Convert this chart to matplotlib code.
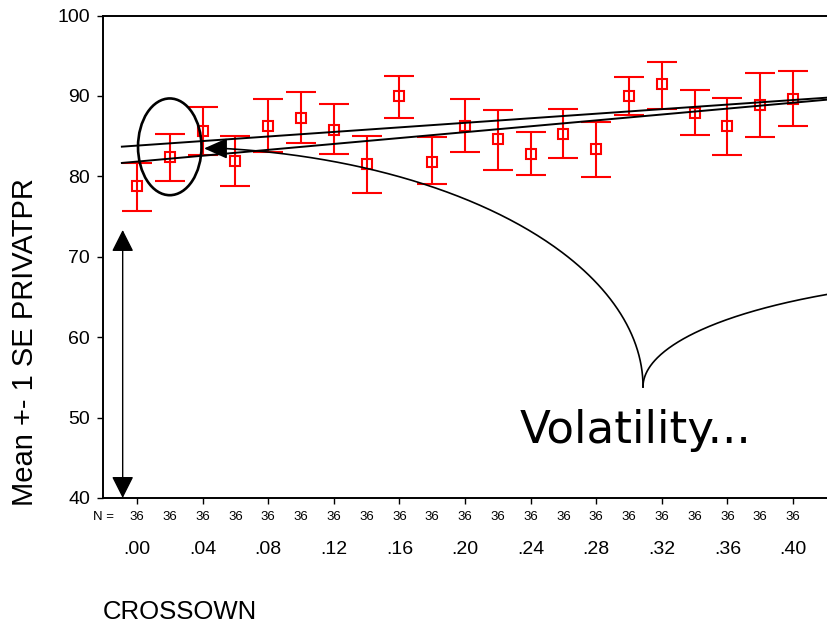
import numpy as np
import matplotlib
matplotlib.use("Agg")
import matplotlib.pyplot as plt
from matplotlib.patches import Ellipse
from matplotlib.transforms import blended_transform_factory

# ---- data ----
crossown = [0.00, 0.02, 0.04, 0.06, 0.08, 0.10, 0.12, 0.14, 0.16, 0.18, 0.20,
            0.22, 0.24, 0.26, 0.28, 0.30, 0.32, 0.34, 0.36, 0.38, 0.40]
means = [78.8, 82.35, 85.6, 81.85, 86.3, 87.25, 85.8, 81.55, 90.05, 81.8, 86.2,
         84.65, 82.8, 85.3, 83.45, 90.0, 91.45, 87.9, 86.25, 88.9, 89.6]
upper = [81.65, 85.3, 88.6, 85.05, 89.6, 90.45, 89.05, 85.05, 92.5, 84.85, 89.6,
         88.2, 85.55, 88.4, 86.7, 92.3, 94.2, 90.7, 89.75, 92.8, 93.05]
lower = [75.75, 79.45, 82.7, 78.8, 83.0, 84.15, 82.8, 77.9, 87.2, 79.0, 83.0,
         80.8, 80.15, 82.3, 79.9, 87.65, 88.4, 85.1, 82.7, 84.85, 86.2]
n_counts = [36] * 21

major_ticks = [0.00, 0.04, 0.08, 0.12, 0.16, 0.20, 0.24, 0.28, 0.32, 0.36, 0.40]
major_labels = [".00", ".04", ".08", ".12", ".16", ".20", ".24", ".28", ".32", ".36", ".40"]
y_ticks = [40, 50, 60, 70, 80, 90, 100]

# two fitted trend lines (intercept, slope)
fit_intercepts = [83.82, 81.83]
fit_slopes = [14.17, 18.31]

# ---- figure ----
plt.rcParams["font.family"] = ["Liberation Sans", "DejaVu Sans"]
fig = plt.figure(figsize=(8.27, 6.24), dpi=100)
ax = fig.add_axes([103 / 827, 126 / 624, 724 / 827, 482.5 / 624])

xmin, xmax = -0.0207, 0.4207
ax.set_xlim(xmin, xmax)
ax.set_ylim(40, 100)

x = np.array(crossown)
m = np.array(means)
yerr = np.vstack([m - np.array(lower), np.array(upper) - m])
ax.errorbar(x, m, yerr=yerr, fmt="s", mfc="none", mec="red", ms=7, mew=1.5,
            ecolor="red", elinewidth=1.5, capsize=11, capthick=1.5, zorder=3)

# trend lines
xl = np.array([-0.0092, xmax])
for b0, b1 in zip(fit_intercepts, fit_slopes):
    ax.plot(xl, b0 + b1 * xl, color="black", lw=1.4, zorder=4, clip_on=False)

# ellipse around second point
ax.add_patch(Ellipse((0.02, 83.67), 0.0387, 12.03, fill=False, lw=1.9,
                     color="black", zorder=5))

# curved callout
c1x, c1y, r1x, r1y = 0.02195, 53.80, 0.2866, 29.84
t1 = np.linspace(0, np.arccos((0.0526 - c1x) / r1x), 200)
ax.plot(c1x + r1x * np.cos(t1), c1y + r1y * np.sin(t1), color="black", lw=1.2, zorder=4)
c2x, c2y, r2x, r2y = 0.5524, 53.80, 0.2439, 13.68
t2 = np.linspace(np.pi, np.deg2rad(110), 200)
ax.plot(c2x + r2x * np.cos(t2), c2y + r2y * np.sin(t2), color="black", lw=1.2, zorder=4)

# arrow head at curve start
tip_x, tip_y = 0.0409, c1y + r1y * np.sin(t1[-1])
ax.annotate("", xy=(tip_x, tip_y), xytext=(tip_x + 0.0125, tip_y),
            arrowprops=dict(arrowstyle="-|>,head_length=1.44,head_width=0.64",
                            mutation_scale=10, color="black", lw=1.2,
                            shrinkA=0, shrinkB=0), zorder=6)

# vertical double arrow
ax.annotate("", xy=(-0.0087, 40.0), xytext=(-0.0087, 73.33),
            arrowprops=dict(arrowstyle="<|-|>,head_length=1.35,head_width=0.68",
                            mutation_scale=10, color="black", lw=1.0,
                            shrinkA=0, shrinkB=0), annotation_clip=False, zorder=6)

ax.text(0.2335, 46.82, "Volatility...", fontsize=32.5, family="DejaVu Sans",
        ha="left", va="baseline")

# axes styling
ax.spines["right"].set_visible(False)
for s in ("left", "top", "bottom"):
    ax.spines[s].set_linewidth(1.4)
ax.set_xticks(major_ticks)
ax.set_xticklabels(major_labels, fontsize=14)
ax.set_yticks(y_ticks)
ax.set_yticklabels([str(v) for v in y_ticks], fontsize=14)
ax.tick_params(axis="x", direction="out", length=4.3, width=1.0, pad=26.5)
ax.tick_params(axis="y", direction="out", length=4.5, width=1.0, pad=4.8)

# N row
trans = blended_transform_factory(ax.transData, ax.transAxes)
yN = (498 - 516.7) / 482.5
for xi, n in zip(crossown, n_counts):
    ax.text(xi, yN, str(n), transform=trans, fontsize=9.5, ha="center", va="center")
ax.text(-0.0140, yN, "N =", transform=trans, fontsize=9.5, ha="right", va="center")

fig.text(103 / 827, (624 - 619.3) / 624, "CROSSOWN", fontsize=18.5,
         ha="left", va="baseline")
fig.text(25.4 / 827, (624 - 341.7) / 624, "Mean +- 1 SE PRIVATPR", fontsize=21,
         rotation=90, ha="center", va="center")

fig.savefig("out.png", dpi=100)
